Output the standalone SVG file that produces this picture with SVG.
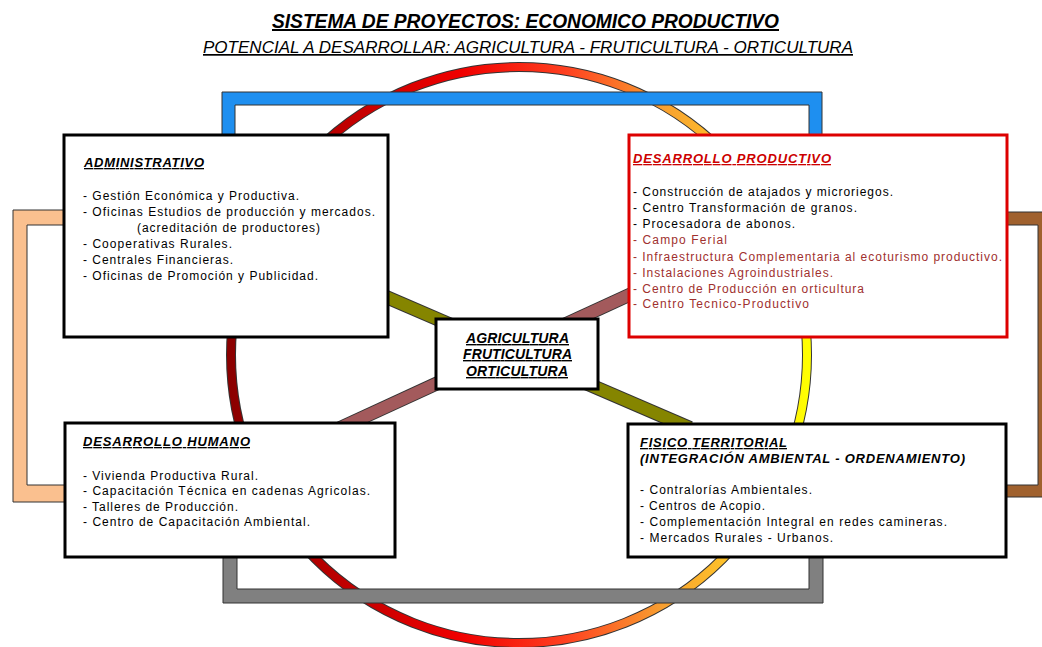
<svg xmlns="http://www.w3.org/2000/svg" width="1042" height="647" viewBox="0 0 1042 647">
<defs>
<linearGradient id="ring" gradientUnits="userSpaceOnUse" x1="231" y1="0" x2="807" y2="0">
<stop offset="0" stop-color="#8b0000"/>
<stop offset="0.2" stop-color="#c00000"/>
<stop offset="0.4" stop-color="#f00000"/>
<stop offset="0.58" stop-color="#ff4020"/>
<stop offset="0.75" stop-color="#f8a030"/>
<stop offset="0.88" stop-color="#ffc828"/>
<stop offset="1" stop-color="#ffff00"/>
</linearGradient>
<style>
.box{fill:#fff;stroke:#000;stroke-width:3}
.t{font-family:"Liberation Sans",Arial,sans-serif;font-size:12px;fill:#000}
.h{font-family:"Liberation Sans",Arial,sans-serif;font-size:13px;font-style:italic;font-weight:bold;text-decoration:underline}
.r{fill:#a0302e}
.br{stroke:#333;stroke-width:1}
</style>
</defs>
<rect width="1042" height="647" fill="#fff"/>

<text x="525.5" y="28" text-anchor="middle" textLength="507" lengthAdjust="spacingAndGlyphs" style="font-family:'Liberation Sans',Arial,sans-serif;font-size:20px;font-weight:bold;font-style:italic;text-decoration:underline">SISTEMA DE PROYECTOS: ECONOMICO PRODUCTIVO</text>
<text x="528" y="53" text-anchor="middle" textLength="650" lengthAdjust="spacingAndGlyphs" style="font-family:'Liberation Sans',Arial,sans-serif;font-size:17px;font-style:italic;text-decoration:underline">POTENCIAL A DESARROLLAR: AGRICULTURA - FRUTICULTURA - ORTICULTURA</text>

<g id="connectors">
<circle cx="519" cy="355" r="288" fill="none" stroke="#333" stroke-width="10"/>
<circle cx="519" cy="355" r="288" fill="none" stroke="url(#ring)" stroke-width="8"/>
<path class="br" fill="#1e8ff0" d="M222,140 L222,92 L822,92 L822,140 L809,140 L809,105 L235,105 L235,140 Z"/>
<path class="br" fill="#808080" d="M223,550 L223,603 L823,603 L823,550 L809,550 L809,589 L237,589 L237,550 Z"/>
<path class="br" fill="#fac08f" d="M70,210 L13,210 L13,502 L70,502 L70,485 L27,485 L27,225 L70,225 Z"/>
<path class="br" fill="#a0612e" d="M1000,212 L1052,212 L1052,497 L1000,497 L1000,485 L1038,485 L1038,225 L1000,225 Z"/>
<line x1="370" y1="290" x2="690" y2="428" stroke="#333" stroke-width="14"/>
<line x1="370" y1="290" x2="690" y2="428" stroke="#858500" stroke-width="12"/>
<line x1="640" y1="290" x2="340" y2="428" stroke="#333" stroke-width="14"/>
<line x1="640" y1="290" x2="340" y2="428" stroke="#a35a5c" stroke-width="12"/>
</g>

<g id="administrativo">
<rect class="box" x="64" y="135" width="324" height="202"/>
<text class="h" x="84" y="167" textLength="120" lengthAdjust="spacing">ADMINISTRATIVO</text>
<text class="t" x="83" y="200" textLength="216" lengthAdjust="spacing">- Gestión Económica y Productiva.</text>
<text class="t" x="83" y="216" textLength="292" lengthAdjust="spacing">- Oficinas Estudios de producción y mercados.</text>
<text class="t" x="137" y="232" textLength="183" lengthAdjust="spacing">(acreditación de productores)</text>
<text class="t" x="83" y="248" textLength="149" lengthAdjust="spacing">- Cooperativas Rurales.</text>
<text class="t" x="83" y="264" textLength="150" lengthAdjust="spacing">- Centrales Financieras.</text>
<text class="t" x="83" y="280" textLength="235" lengthAdjust="spacing">- Oficinas de Promoción y Publicidad.</text>
</g>

<g id="desarrollo-productivo">
<rect class="box" x="629" y="135" width="378" height="202" style="stroke:#dd0000"/>
<text class="h" x="633" y="163" textLength="198" lengthAdjust="spacing" style="fill:#cc0000">DESARROLLO PRODUCTIVO</text>
<text class="t" x="633" y="196" textLength="260" lengthAdjust="spacing">- Construcción de atajados y microriegos.</text>
<text class="t" x="633" y="212" textLength="224" lengthAdjust="spacing">- Centro Transformación de granos.</text>
<text class="t" x="633" y="228" textLength="162" lengthAdjust="spacing">- Procesadora de abonos.</text>
<text class="t r" x="633" y="244" textLength="94" lengthAdjust="spacing">- Campo Ferial</text>
<text class="t r" x="633" y="261" textLength="369" lengthAdjust="spacing">- Infraestructura Complementaria al ecoturismo productivo.</text>
<text class="t r" x="633" y="277" textLength="200" lengthAdjust="spacing">- Instalaciones Agroindustriales.</text>
<text class="t r" x="633" y="293" textLength="231" lengthAdjust="spacing">- Centro de Producción en orticultura</text>
<text class="t r" x="633" y="308" textLength="176" lengthAdjust="spacing">- Centro Tecnico-Productivo</text>
</g>

<g id="desarrollo-humano">
<rect class="box" x="65" y="423" width="330" height="134"/>
<text class="h" x="83" y="446" textLength="167" lengthAdjust="spacing">DESARROLLO HUMANO</text>
<text class="t" x="83" y="480" textLength="175" lengthAdjust="spacing">- Vivienda Productiva Rural.</text>
<text class="t" x="83" y="495" textLength="287" lengthAdjust="spacing">- Capacitación Técnica en cadenas Agricolas.</text>
<text class="t" x="83" y="511" textLength="155" lengthAdjust="spacing">- Talleres de Producción.</text>
<text class="t" x="83" y="526" textLength="227" lengthAdjust="spacing">- Centro de Capacitación Ambiental.</text>
</g>

<g id="fisico-territorial">
<rect class="box" x="628" y="424" width="378" height="133"/>
<text class="h" x="640" y="447" textLength="147" lengthAdjust="spacing">FISICO TERRITORIAL</text>
<text class="h" x="640" y="463" textLength="325" lengthAdjust="spacing" style="text-decoration:none">(INTEGRACIÓN AMBIENTAL - ORDENAMIENTO)</text>
<text class="t" x="640" y="494" textLength="172" lengthAdjust="spacing">- Contralorías Ambientales.</text>
<text class="t" x="640" y="510" textLength="125" lengthAdjust="spacing">- Centros de Acopio.</text>
<text class="t" x="640" y="526" textLength="307" lengthAdjust="spacing">- Complementación Integral en redes camineras.</text>
<text class="t" x="640" y="542" textLength="193" lengthAdjust="spacing">- Mercados Rurales - Urbanos.</text>
</g>

<g id="centro">
<rect class="box" x="436" y="319" width="162" height="70"/>
<text class="h" x="517.5" y="343" text-anchor="middle" textLength="103" lengthAdjust="spacing" style="font-size:14px">AGRICULTURA</text>
<text class="h" x="517.5" y="359" text-anchor="middle" textLength="109" lengthAdjust="spacing" style="font-size:14px">FRUTICULTURA</text>
<text class="h" x="517" y="376" text-anchor="middle" textLength="102" lengthAdjust="spacing" style="font-size:14px">ORTICULTURA</text>
</g>
</svg>
